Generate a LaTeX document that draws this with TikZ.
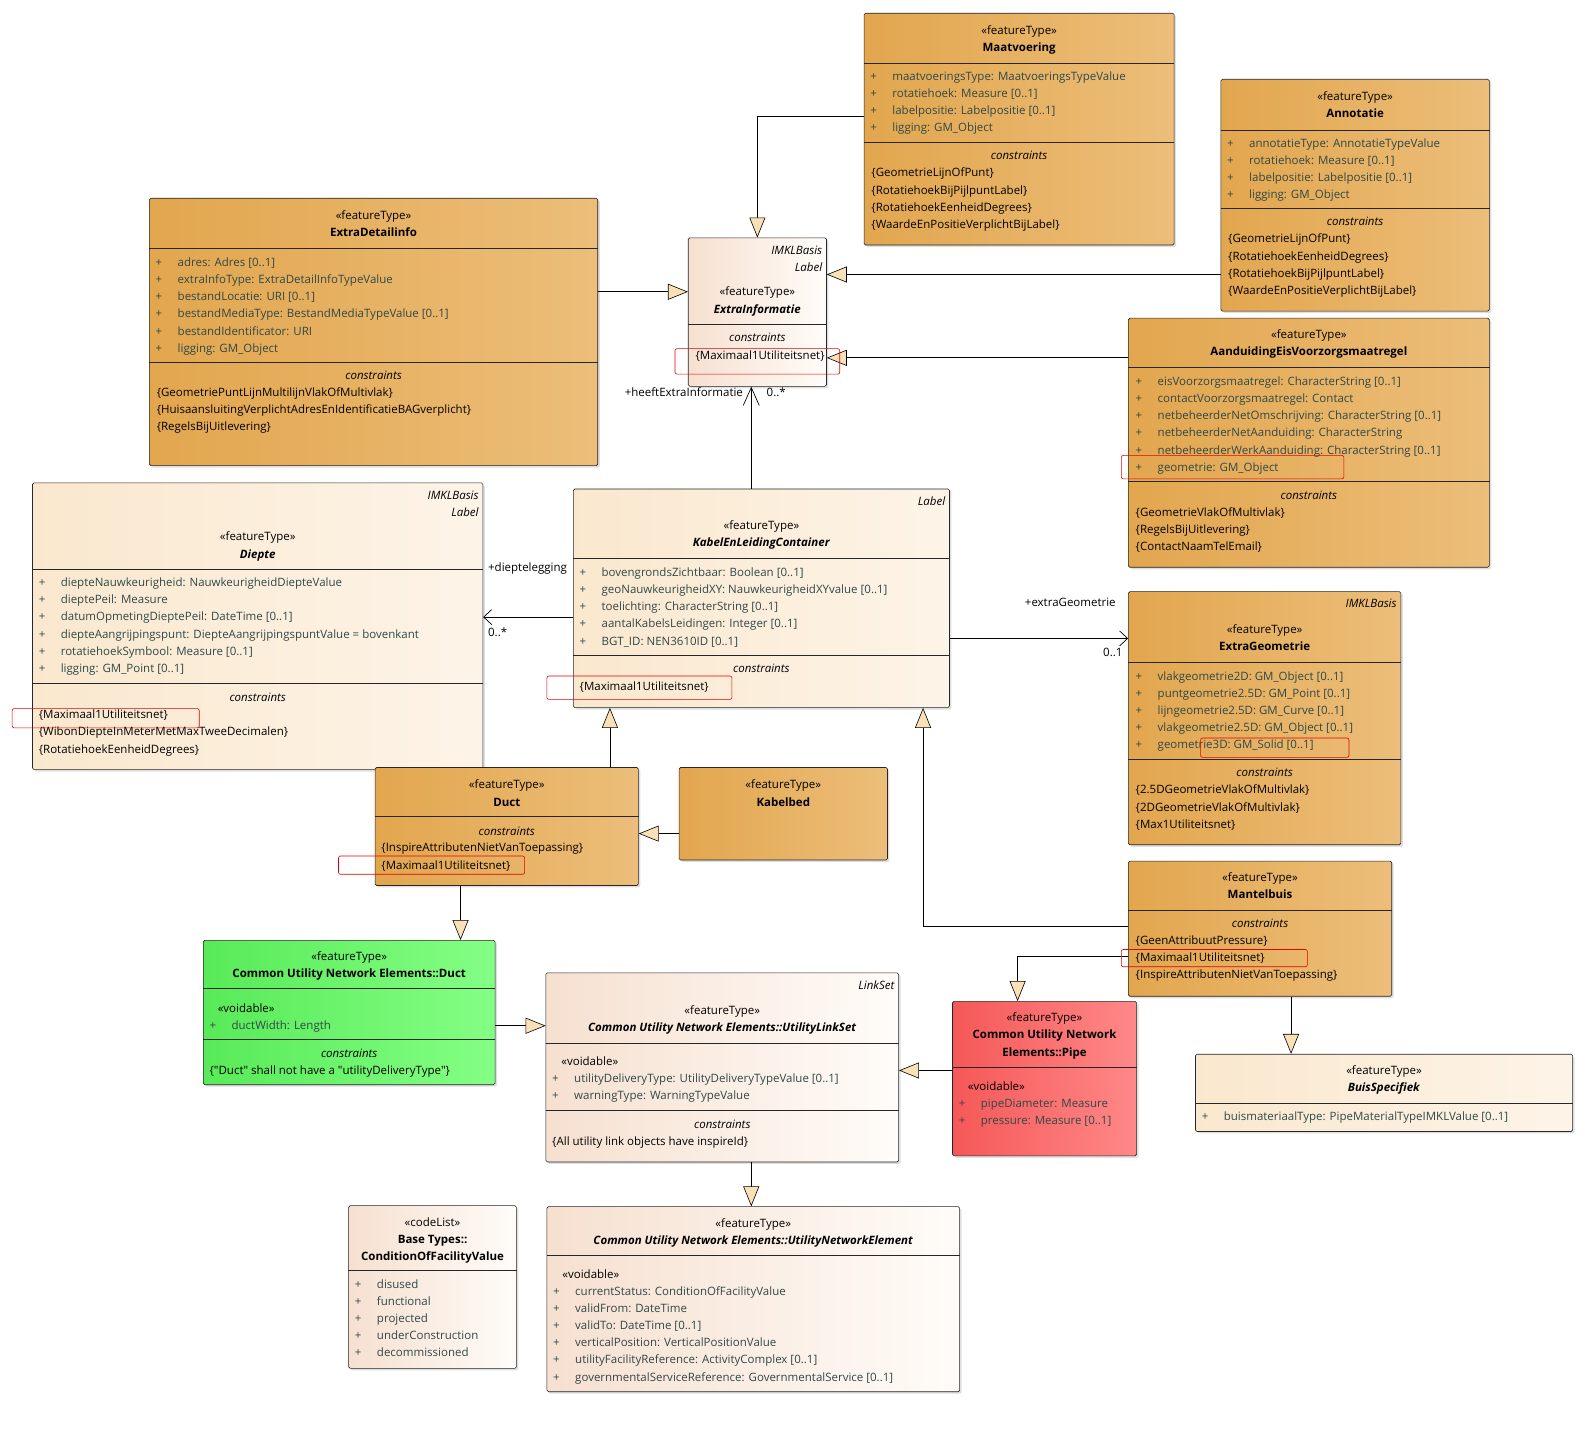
\documentclass[tikz,border=0pt]{standalone}
\usepackage{fontspec}
\setmainfont{Open Sans}
\newfontfamily\plainq{Open Sans}
\usetikzlibrary{arrows.meta,fit,shadows}

\definecolor{orL}{RGB}{226,166,78}
\definecolor{orR}{RGB}{236,190,122}
\definecolor{crL}{RGB}{250,232,206}
\definecolor{crR}{RGB}{253,244,232}
\definecolor{pkL}{RGB}{246,224,208}
\definecolor{pkR}{RGB}{255,252,249}
\definecolor{grL}{RGB}{88,234,88}
\definecolor{grR}{RGB}{132,255,132}
\definecolor{rdL}{RGB}{245,88,88}
\definecolor{rdR}{RGB}{255,136,136}
\definecolor{attrc}{RGB}{48,72,72}
\definecolor{tri}{RGB}{250,224,182}

\newcommand{\fs}{\fontsize{11.5}{13}\selectfont}
\newcommand{\qt}{{\plainq"}}

% class box, separator and text lines
\newcommand{\umlbox}[6]{\node[box,#6,fit={(#2,#3) (#4,#5)}] (#1) {};}
\newcommand{\sepl}[2]{\draw[sepline] (#1.west |- 0,#2) -- (#1.east |- 0,#2);}
\newcommand{\ttl}[4]{\foreach \lin [count=\i] in {#4}
  \node[ttl] (#1-t\i) at ({#2},{#3+16.9*(\i-1)}) {\lin};}
\newcommand{\attrs}[4]{\foreach \lin [count=\i] in {#4}
  \node[attr] (#1-a\i) at ({#2},{#3+16.9*(\i-1)}) {\makebox[22pt][l]{+}\lin};}
\newcommand{\cons}[4]{\foreach \lin [count=\i] in {#4}
  \node[con] (#1-c\i) at ({#2},{#3+16.9*(\i-1)}) {\lin};}

\begin{document}
\begin{tikzpicture}[
  x=1.0166pt, y=-1.0166pt,
  box/.style={draw=black!85, rounded corners=1.5pt, inner sep=0pt, line width=0.6pt,
    drop shadow={shadow xshift=2pt, shadow yshift=-2pt, opacity=0.25}},
  orange/.style={left color=orL, right color=orR},
  cream/.style={left color=crL, right color=crR},
  pink/.style={left color=pkL, right color=pkR},
  green/.style={left color=grL, right color=grR},
  red/.style={left color=rdL, right color=rdR},
  sepline/.style={line width=0.6pt, black!85},
  ttl/.style={anchor=base, inner sep=0pt, font=\fs},
  attr/.style={anchor=base west, inner sep=0pt, font=\fs, text=attrc},
  con/.style={anchor=base west, inner sep=0pt, font=\fs},
  tag/.style={anchor=base east, inner sep=0pt, font=\fs\itshape},
  lbl/.style={inner sep=0pt, font=\fs},
  hl/.style={draw=red!90!black, rounded corners=2pt, line width=0.6pt},
  gen/.style={line width=0.7pt, -{Triangle[length=20pt,width=16pt,fill=tri,line width=0.6pt]}},
  assoc/.style={line width=0.7pt, -{Straight Barb[length=8pt,width=15pt,line width=0.7pt]}}
]
  \useasboundingbox[fill=white] (0,0) rectangle (1568,1415);

  % boxes
  \umlbox{mv}{850}{13}{1155}{241}{orange}
  \umlbox{an}{1201}{78}{1465}{306}{orange}
  \umlbox{ed}{147}{195}{588}{458}{orange}
  \umlbox{ei}{677}{234}{813}{380}{pink}
  \umlbox{ae}{1110}{313}{1465}{558}{orange}
  \umlbox{dp}{32}{475}{475}{757}{cream}
  \umlbox{kl}{564}{481}{934}{696}{cream}
  \umlbox{eg}{1110}{582}{1378}{831}{orange}
  \umlbox{du}{369}{755}{628}{871}{orange}
  \umlbox{kb}{668}{755}{873}{846}{orange}
  \umlbox{gd}{200}{925}{487}{1067}{green}
  \umlbox{ls}{537}{957}{884}{1143}{pink}
  \umlbox{mb}{1110}{847}{1369}{980}{orange}
  \umlbox{pp}{937}{985}{1118}{1137}{red}
  \umlbox{bs}{1176}{1037}{1547}{1113}{cream}
  \umlbox{cf}{343}{1186}{508}{1346}{pink}
  \umlbox{ne}{538}{1187}{944}{1369}{pink}

  % Maatvoering
  \ttl{mv}{1002.5}{34}{«featureType», \textbf{Maatvoering}}
  \sepl{mv}{62}
  \attrs{mv}{856}{79}{maatvoeringsType: MaatvoeringsTypeValue, rotatiehoek: Measure [0..1],
    labelpositie: Labelpositie [0..1], ligging: GM\_Object}
  \sepl{mv}{140}
  \node[ttl] (mv-k) at (1002.5,157) {\textit{constraints}};
  \cons{mv}{857}{174}{\{GeometrieLijnOfPunt\}, \{RotatiehoekBijPijlpuntLabel\},
    \{RotatiehoekEenheidDegrees\}, \{WaardeEnPositieVerplichtBijLabel\}}

  % Annotatie
  \ttl{an}{1333}{99}{«featureType», \textbf{Annotatie}}
  \sepl{an}{128}
  \attrs{an}{1207}{145}{annotatieType: AnnotatieTypeValue, rotatiehoek: Measure [0..1],
    labelpositie: Labelpositie [0..1], ligging: GM\_Object}
  \sepl{an}{205}
  \node[ttl] (an-k) at (1333,222) {\textit{constraints}};
  \cons{an}{1208}{239}{\{GeometrieLijnOfPunt\}, \{RotatiehoekEenheidDegrees\},
    \{RotatiehoekBijPijlpuntLabel\}, \{WaardeEnPositieVerplichtBijLabel\}}

  % ExtraDetailinfo
  \ttl{ed}{367.5}{216}{«featureType», \textbf{ExtraDetailinfo}}
  \sepl{ed}{244}
  \attrs{ed}{153}{262}{adres: Adres [0..1], extraInfoType: ExtraDetailInfoTypeValue,
    bestandLocatie: URI [0..1], bestandMediaType: BestandMediaTypeValue [0..1],
    bestandIdentificator: URI, ligging: GM\_Object}
  \sepl{ed}{356}
  \node[ttl] (ed-k) at (367.5,373) {\textit{constraints}};
  \cons{ed}{154}{390}{\{GeometriePuntLijnMultilijnVlakOfMultivlak\},
    \{HuisaansluitingVerplichtAdresEnIdentificatieBAGverplicht\}, \{RegelsBijUitlevering\}}

  % ExtraInformatie
  \node[tag] (ei-g1) at (809,250) {IMKLBasis};
  \node[tag] (ei-g2) at (809,267) {Label};
  \ttl{ei}{745}{291}{«featureType», \textbf{\textit{ExtraInformatie}}}
  \sepl{ei}{319}
  \node[ttl] (ei-k) at (745,336) {\textit{constraints}};
  \cons{ei}{684}{354}{\{Maximaal1Utiliteitsnet\}}

  % AanduidingEisVoorzorgsmaatregel
  \ttl{ae}{1287.5}{333}{«featureType», \textbf{AanduidingEisVoorzorgsmaatregel}}
  \sepl{ae}{361}
  \attrs{ae}{1117}{379}{eisVoorzorgsmaatregel: CharacterString [0..1],
    contactVoorzorgsmaatregel: Contact, netbeheerderNetOmschrijving: CharacterString [0..1],
    netbeheerderNetAanduiding: CharacterString,
    netbeheerderWerkAanduiding: CharacterString [0..1], geometrie: GM\_Object}
  \sepl{ae}{473}
  \node[ttl] (ae-k) at (1287.5,491) {\textit{constraints}};
  \cons{ae}{1117}{508}{\{GeometrieVlakOfMultivlak\}, \{RegelsBijUitlevering\},
    \{ContactNaamTelEmail\}}

  % Diepte
  \node[tag] (dp-g1) at (471,491) {IMKLBasis};
  \node[tag] (dp-g2) at (471,508) {Label};
  \ttl{dp}{253.5}{532}{«featureType», \textbf{\textit{Diepte}}}
  \sepl{dp}{560}
  \attrs{dp}{38}{577}{diepteNauwkeurigheid: NauwkeurigheidDiepteValue, dieptePeil: Measure,
    datumOpmetingDieptePeil: DateTime [0..1],
    diepteAangrijpingspunt: DiepteAangrijpingspuntValue = bovenkant,
    rotatiehoekSymbool: Measure [0..1], ligging: GM\_Point [0..1]}
  \sepl{dp}{672}
  \node[ttl] (dp-k) at (253.5,690) {\textit{constraints}};
  \cons{dp}{38}{707}{\{Maximaal1Utiliteitsnet\}, \{WibonDiepteInMeterMetMaxTweeDecimalen\},
    \{RotatiehoekEenheidDegrees\}}

  % KabelEnLeidingContainer
  \node[tag] (kl-g1) at (930,497) {Label};
  \ttl{kl}{749}{521}{«featureType», \textbf{\textit{KabelEnLeidingContainer}}}
  \sepl{kl}{549}
  \attrs{kl}{570}{567}{bovengrondsZichtbaar: Boolean [0..1],
    geoNauwkeurigheidXY: NauwkeurigheidXYvalue [0..1], toelichting: CharacterString [0..1],
    aantalKabelsLeidingen: Integer [0..1], BGT\_ID: NEN3610ID [0..1]}
  \sepl{kl}{645}
  \node[ttl] (kl-k) at (749,662) {\textit{constraints}};
  \cons{kl}{570}{679}{\{Maximaal1Utiliteitsnet\}}

  % ExtraGeometrie
  \node[tag] (eg-g1) at (1374,598) {IMKLBasis};
  \ttl{eg}{1244}{623}{«featureType», \textbf{ExtraGeometrie}}
  \sepl{eg}{651}
  \attrs{eg}{1117}{669}{vlakgeometrie2D: GM\_Object [0..1], puntgeometrie2.5D: GM\_Point [0..1],
    lijngeometrie2.5D: GM\_Curve [0..1], vlakgeometrie2.5D: GM\_Object [0..1],
    geometrie3D: GM\_Solid [0..1]}
  \sepl{eg}{747}
  \node[ttl] (eg-k) at (1244,764) {\textit{constraints}};
  \cons{eg}{1117}{781}{\{2.5DGeometrieVlakOfMultivlak\}, \{2DGeometrieVlakOfMultivlak\},
    \{Max1Utiliteitsnet\}}

  % Duct
  \ttl{du}{498.5}{776}{«featureType», \textbf{Duct}}
  \sepl{du}{803}
  \node[ttl] (du-k) at (498.5,822) {\textit{constraints}};
  \cons{du}{375}{838}{\{InspireAttributenNietVanToepassing\}, \{Maximaal1Utiliteitsnet\}}

  % Kabelbed
  \ttl{kb}{770.5}{776}{«featureType», \textbf{Kabelbed}}

  % Common Utility Network Elements::Duct
  \ttl{gd}{343.5}{945}{«featureType», \textbf{Common Utility Network Elements::Duct}}
  \sepl{gd}{972}
  \node[con] (gd-v) at (214,996) {«voidable»};
  \attrs{gd}{206}{1013}{ductWidth: Length}
  \sepl{gd}{1022}
  \node[ttl] (gd-k) at (343.5,1040) {\textit{constraints}};
  \cons{gd}{206}{1057}{\{\qt Duct\qt{} shall not have a \qt utilityDeliveryType\qt\}}

  % UtilityLinkSet
  \node[tag] (ls-g1) at (880,973) {LinkSet};
  \ttl{ls}{710.5}{998}{«featureType», \textbf{\textit{Common Utility Network Elements::UtilityLinkSet}}}
  \sepl{ls}{1026}
  \node[con] (ls-v) at (552,1048) {«voidable»};
  \attrs{ls}{543}{1065}{utilityDeliveryType: UtilityDeliveryTypeValue [0..1],
    warningType: WarningTypeValue}
  \sepl{ls}{1092}
  \node[ttl] (ls-k) at (710.5,1110) {\textit{constraints}};
  \cons{ls}{543}{1127}{\{All utility link objects have inspireId\}}

  % Mantelbuis
  \ttl{mb}{1239.5}{867}{«featureType», \textbf{Mantelbuis}}
  \sepl{mb}{895}
  \node[ttl] (mb-k) at (1239.5,912) {\textit{constraints}};
  \cons{mb}{1117}{929}{\{GeenAttribuutPressure\}, \{Maximaal1Utiliteitsnet\},
    \{InspireAttributenNietVanToepassing\}}

  % Pipe
  \ttl{pp}{1027.5}{1005}{«featureType», \textbf{Common Utility Network}, \textbf{Elements::Pipe}}
  \sepl{pp}{1050}
  \node[con] (pp-v) at (952,1073) {«voidable»};
  \attrs{pp}{943}{1089}{pipeDiameter: Measure, pressure: Measure [0..1]}

  % BuisSpecifiek
  \ttl{bs}{1361.5}{1057}{«featureType», \textbf{\textit{BuisSpecifiek}}}
  \sepl{bs}{1085}
  \attrs{bs}{1182}{1102}{buismateriaalType: PipeMaterialTypeIMKLValue [0..1]}

  % ConditionOfFacilityValue
  \ttl{cf}{425.5}{1206}{«codeList», \textbf{Base Types::}, \textbf{ConditionOfFacilityValue}}
  \sepl{cf}{1250}
  \attrs{cf}{349}{1267}{disused, functional, projected, underConstruction, decommissioned}

  % UtilityNetworkElement
  \ttl{ne}{741}{1207}{«featureType», \textbf{\textit{Common Utility Network Elements::UtilityNetworkElement}}}
  \sepl{ne}{1235}
  \node[con] (ne-v) at (553,1258) {«voidable»};
  \attrs{ne}{544}{1274}{currentStatus: ConditionOfFacilityValue, validFrom: DateTime,
    validTo: DateTime [0..1], verticalPosition: VerticalPositionValue,
    utilityFacilityReference: ActivityComplex [0..1],
    governmentalServiceReference: GovernmentalService [0..1]}

  % generalisations
  \draw[gen] (mv.west |- 0,114) -| (ei.north);
  \draw[gen] (an.west |- 0,270) -- (ei.east |- 0,270);
  \draw[gen] (ae.west |- 0,352) -- (ei.east |- 0,352);
  \draw[gen] (ed.east |- 0,287) -- (ei.west |- 0,287);
  \draw[gen] (600,0 |- du.north) -- (600,0 |- kl.south);
  \draw[gen] (kb.west |- 0,820) -- (du.east |- 0,820);
  \draw[gen] (mb.west |- 0,911) -| (908,0 |- kl.south);
  \draw[gen] (453,0 |- du.south) -- (453,0 |- gd.north);
  \draw[gen] (gd.east |- 0,1009) -- (ls.west |- 0,1009);
  \draw[gen] (pp.west |- 0,1053) -- (ls.east |- 0,1053);
  \draw[gen] (mb.west |- 0,941) -| (1001,0 |- pp.north);
  \draw[gen] (1270,0 |- mb.south) -- (1270,0 |- bs.north);
  \draw[gen] (739,0 |- ls.south) -- (739,0 |- ne.north);

  % associations
  \draw[assoc, -{Straight Barb[length=18pt,width=16pt,line width=0.7pt]}]
    (739,0 |- kl.north) -- (739,0 |- ei.south);
  \node[lbl, anchor=base east] (r1) at (731,390) {+heeftExtraInformatie};
  \node[lbl, anchor=base west] (m1) at (754,390) {0..*};
  \draw[assoc] (kl.west |- 0,607) -- (dp.east |- 0,607);
  \node[lbl, anchor=base west] (r2) at (480,562) {+dieptelegging};
  \node[lbl, anchor=base west] (m2) at (480,626) {0..*};
  \draw[assoc] (kl.east |- 0,628) -- (eg.west |- 0,628);
  \node[lbl, anchor=base west] (r3) at (1008,597) {+extraGeometrie};
  \node[lbl, anchor=base west] (m3) at (1085,646) {0..1};

  % highlights
  \draw[hl] (664,343) rectangle (826,368);
  \draw[hl] (1103,448) rectangle (1322,471);
  \draw[hl] (12,697) rectangle (196,716);
  \draw[hl] (538,665) rectangle (720,688);
  \draw[hl] (1181,726) rectangle (1327,745);
  \draw[hl] (333,842) rectangle (516,860);
  \draw[hl] (1103,934) rectangle (1286,951);
\end{tikzpicture}
\end{document}
